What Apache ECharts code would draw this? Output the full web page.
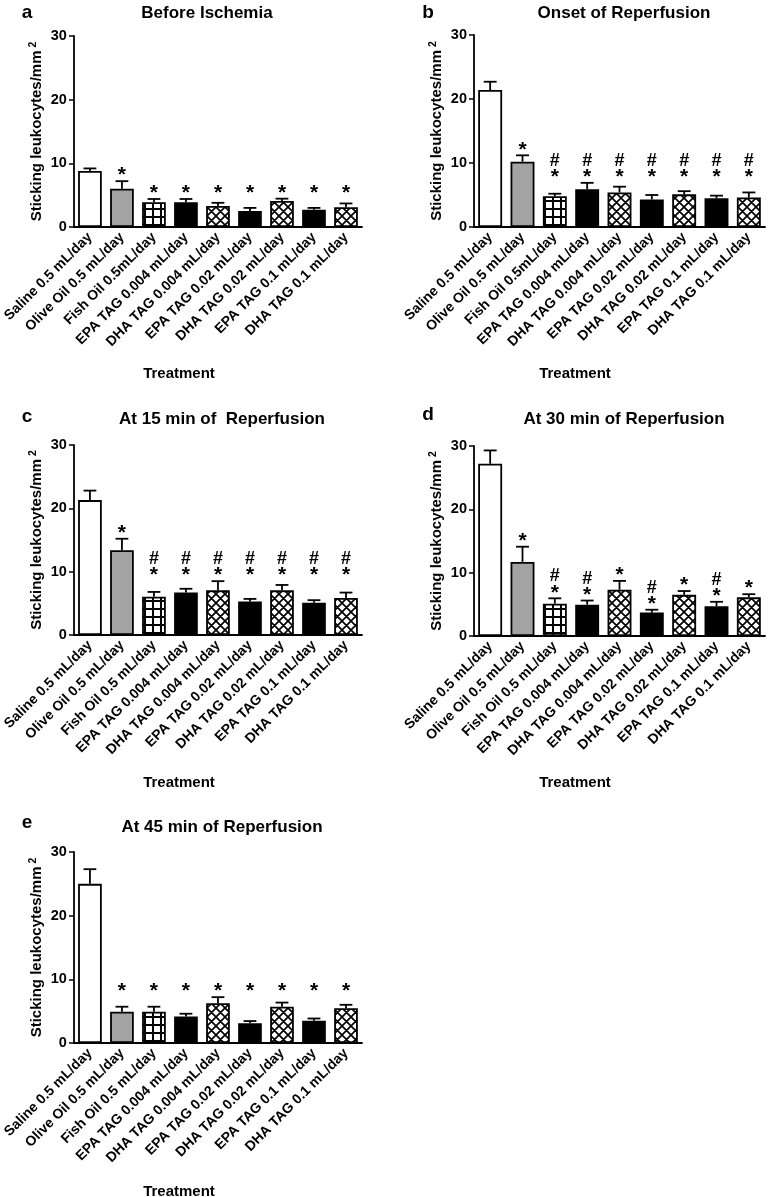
<!DOCTYPE html>
<html>
<head>
<meta charset="utf-8">
<script src="https://cdn.jsdelivr.net/npm/echarts@6/dist/echarts.min.js"></script>
<style>
html,body{margin:0;padding:0;background:#fff;}
#chart{width:770px;height:1197px;}
</style>
</head>
<body>
<div id="chart"></div>
<script>
// ---------- DATA ----------
const categoriesAB = ['Saline 0.5 mL/day','Olive Oil 0.5 mL/day','Fish Oil 0.5mL/day','EPA TAG 0.004 mL/day','DHA TAG 0.004 mL/day','EPA TAG 0.02 mL/day','DHA TAG 0.02 mL/day','EPA TAG 0.1 mL/day','DHA TAG 0.1 mL/day'];
const categoriesCDE = ['Saline 0.5 mL/day','Olive Oil 0.5 mL/day','Fish Oil 0.5 mL/day','EPA TAG 0.004 mL/day','DHA TAG 0.004 mL/day','EPA TAG 0.02 mL/day','DHA TAG 0.02 mL/day','EPA TAG 0.1 mL/day','DHA TAG 0.1 mL/day'];

const titles = ['Before Ischemia','Onset of Reperfusion','At 15 min of  Reperfusion','At 30 min of Reperfusion','At 45 min of Reperfusion'];
const panelLetters = ['a','b','c','d','e'];
const yTicks = [0, 10, 20, 30];

const meansA = [8.8, 6.0, 3.9, 3.9, 3.3, 2.5, 4.1, 2.7, 3.1];
const semA   = [0.4, 1.2, 0.5, 0.5, 0.5, 0.5, 0.35, 0.3, 0.6];
const meansB = [21.4, 10.2, 4.8, 5.9, 5.4, 4.3, 5.1, 4.5, 4.6];
const semB   = [1.3, 1.0, 0.4, 1.0, 0.9, 0.7, 0.5, 0.4, 0.8];
const meansC = [21.3, 13.4, 6.05, 6.7, 7.05, 5.3, 7.05, 5.1, 5.85];
const semC   = [1.5, 1.8, 0.75, 0.6, 1.45, 0.4, 0.85, 0.4, 0.85];
const meansD = [27.2, 11.7, 5.1, 4.95, 7.3, 3.7, 6.5, 4.7, 6.1];
const semD   = [2.1, 2.4, 0.85, 0.65, 1.4, 0.45, 0.6, 0.7, 0.5];
const meansE = [25.0, 4.9, 4.9, 4.15, 6.25, 3.1, 5.7, 3.5, 5.45];
const semE   = [2.3, 0.8, 0.8, 0.45, 0.95, 0.35, 0.65, 0.35, 0.55];

const signifA = ['', '*', '*', '*', '*', '*', '*', '*', '*'];
const signifB = ['', '*', '#*', '#*', '#*', '#*', '#*', '#*', '#*'];
const signifC = ['', '*', '#*', '#*', '#*', '#*', '#*', '#*', '#*'];
const signifD = ['', '*', '#*', '#*', '*', '#*', '*', '#*', '*'];
const signifE = ['', '*', '*', '*', '*', '*', '*', '*', '*'];

// ---------- STYLE / LAYOUT ----------
const FONT = '"Liberation Sans", Arial, Helvetica, sans-serif';
function gridPattern(){
  const c = document.createElement('canvas'); c.width = 8; c.height = 8;
  const g = c.getContext('2d');
  g.fillStyle = '#fff'; g.fillRect(0,0,8,8);
  g.fillStyle = '#000'; g.fillRect(0,0,2,8); g.fillRect(0,0,8,2);
  return c;
}
function crossPattern(){
  const s = 9;
  const c = document.createElement('canvas'); c.width = s; c.height = s;
  const g = c.getContext('2d');
  g.fillStyle = '#fff'; g.fillRect(0,0,s,s);
  g.strokeStyle = '#000'; g.lineWidth = 1.7;
  g.beginPath();
  for (const o of [-s, 0, s]) {
    g.moveTo(o, 0); g.lineTo(o + s, s);
    g.moveTo(o + s, 0); g.lineTo(o, s);
  }
  g.stroke();
  return c;
}
const gridFill = {image: gridPattern(), repeat: 'repeat'};
const crossFill = {image: crossPattern(), repeat: 'repeat'};
const fills = ['#ffffff', '#a3a3a3', gridFill, '#000000', crossFill, '#000000', crossFill, '#000000', crossFill];

const panels = [
  {cats: categoriesAB,  means: meansA, sem: semA, sig: signifA, align: true,
   grid: {left: 70, top: 36, width: 292, height: 191}, title: [207, 13], letter: [27, 13], treat: [179, 374]},
  {cats: categoriesAB,  means: meansB, sem: semB, sig: signifB, align: true,
   grid: {left: 474, top: 35, width: 291, height: 192}, title: [624, 13], letter: [428, 13], treat: [575, 374]},
  {cats: categoriesCDE, means: meansC, sem: semC, sig: signifC, align: true,
   grid: {left: 70, top: 445, width: 292, height: 190}, title: [222, 419], letter: [27, 417], treat: [179, 783]},
  {cats: categoriesCDE, means: meansD, sem: semD, sig: signifD, align: false,
   grid: {left: 474, top: 446, width: 291, height: 190}, title: [624, 419], letter: [428, 415], treat: [575, 783]},
  {cats: categoriesCDE, means: meansE, sem: semE, sig: signifE, align: true,
   grid: {left: 70, top: 852, width: 292, height: 191}, title: [222, 827], letter: [27, 823], treat: [179, 1192]}
];

const chart = echarts.init(document.getElementById('chart'), null, {renderer: 'canvas'});
const option = {
  backgroundColor: '#fff',
  animation: false,
  textStyle: {fontFamily: FONT},
  grid: [], xAxis: [], yAxis: [], series: [], graphic: []
};

panels.forEach((p, i) => {
  option.grid.push(Object.assign({containLabel: false}, p.grid));
  option.xAxis.push({
    type: 'category', gridIndex: i, data: p.cats,
    axisLine: {lineStyle: {color: '#000', width: 1.8}},
    axisTick: {alignWithLabel: true, length: 5, lineStyle: {color: '#000', width: 1.5}},
    axisLabel: {rotate: 45, interval: 0, margin: 8, color: '#000', fontWeight: 'bold', fontSize: 14, fontFamily: FONT},
    splitLine: {show: false}
  });
  option.yAxis.push({
    type: 'value', gridIndex: i, min: yTicks[0], max: yTicks[yTicks.length - 1], interval: yTicks[1] - yTicks[0],
    axisLine: {show: true, lineStyle: {color: '#000', width: 1.8}},
    axisTick: {show: true, length: 5, lineStyle: {color: '#000', width: 1.5}},
    axisLabel: {color: '#000', fontWeight: 'bold', fontSize: 14.5, fontFamily: FONT, margin: 7},
    splitLine: {show: false},
    name: 'Sticking leukocytes/mm{sup|2}',
    nameLocation: 'middle', nameGap: 29, nameRotate: 90,
    nameTextStyle: {color: '#000', fontWeight: 'bold', fontSize: 15, fontFamily: FONT,
      rich: {sup: {fontSize: 10.5, fontWeight: 'bold', color: '#000', fontFamily: FONT, verticalAlign: 'top', padding: [0, 0, 6, 3]}}}
  });
  // bars
  option.series.push({
    type: 'bar', xAxisIndex: i, yAxisIndex: i, barWidth: '74%',
    data: p.means.map((v, k) => ({value: v, itemStyle: {color: fills[k], borderColor: '#000', borderWidth: 1.8}})),
    z: 2
  });
  // error bars (upper whisker only)
  option.series.push({
    type: 'custom', xAxisIndex: i, yAxisIndex: i, z: 3,
    data: p.means.map((v, k) => [k, v, v + p.sem[k]]),
    renderItem: (params, api) => {
      const k = api.value(0);
      const lo = api.coord([k, api.value(1)]);
      const hi = api.coord([k, api.value(2)]);
      const band = api.size([1, 0])[0];
      const hw = band * 0.2;
      const st = {stroke: '#000', lineWidth: 1.8};
      return {type: 'group', children: [
        {type: 'line', shape: {x1: lo[0], y1: lo[1], x2: hi[0], y2: hi[1]}, style: st},
        {type: 'line', shape: {x1: hi[0] - hw, y1: hi[1], x2: hi[0] + hw, y2: hi[1]}, style: st}
      ]};
    }
  });
  // significance markers
  const tops = p.means.map((v, k) => v + p.sem[k]);
  const groupMax = Math.max(...tops.slice(2));
  option.series.push({
    type: 'custom', xAxisIndex: i, yAxisIndex: i, z: 4,
    data: p.sig.map((s, k) => [k, p.align ? Math.max(tops[k], groupMax) : tops[k], s]),
    renderItem: (params, api) => {
      const s = p.sig[params.dataIndex];
      if (!s) return null;
      const pt = api.coord([api.value(0), api.value(1)]);
      const children = [
        {type: 'text', x: pt[0], y: pt[1] + 5,
         style: {text: '*', fill: '#000', font: 'bold 21px ' + FONT, align: 'center', verticalAlign: 'bottom'}}
      ];
      if (s === '#*') {
        children.push({type: 'text', x: pt[0], y: pt[1] - 13,
          style: {text: '#', fill: '#000', font: 'bold 18px ' + FONT, align: 'center', verticalAlign: 'bottom'}});
      }
      return {type: 'group', children};
    }
  });
  // free text
  option.graphic.push(
    {type: 'text', x: p.title[0], y: p.title[1], style: {text: titles[i], fill: '#000', font: 'bold 17px ' + FONT, align: 'center', verticalAlign: 'middle'}},
    {type: 'text', x: p.letter[0], y: p.letter[1], style: {text: panelLetters[i], fill: '#000', font: 'bold 19px ' + FONT, align: 'center', verticalAlign: 'middle'}},
    {type: 'text', x: p.treat[0], y: p.treat[1], style: {text: 'Treatment', fill: '#000', font: 'bold 15px ' + FONT, align: 'center', verticalAlign: 'middle'}}
  );
});

chart.setOption(option);
</script>
</body>
</html>
